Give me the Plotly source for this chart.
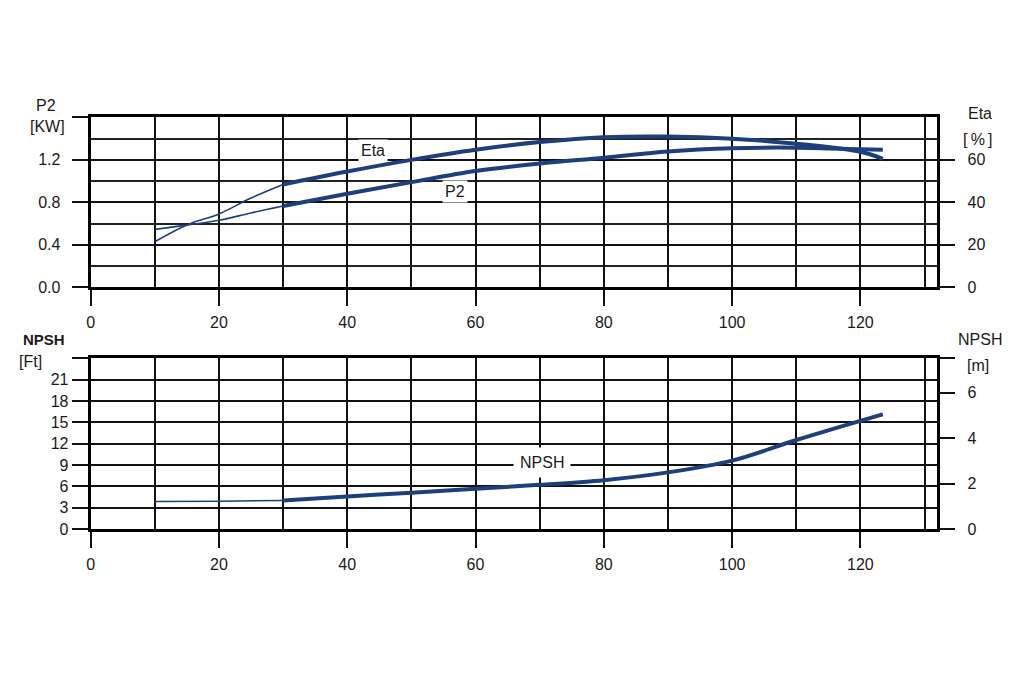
import plotly.graph_objects as go

# ---------------- data ----------------
flow = [10, 15, 20, 25, 30, 40, 50, 60, 70, 80, 90, 100, 110, 120, 123.5]
eta_pct = [21.4, 29.3, 34.5, 42.0, 48.4, 54.5, 60.0, 64.8, 68.4, 70.7, 71.0, 70.0, 67.6, 63.8, 60.5]
p2_kw = [0.545, 0.585, 0.63, 0.70, 0.765, 0.88, 0.99, 1.095, 1.165, 1.22, 1.28, 1.31, 1.315, 1.30, 1.295]

npsh_flow = [10, 20, 30, 40, 50, 60, 70, 80, 90, 100, 110, 120, 123.5]
npsh_ft = [3.86, 3.9, 4.0, 4.55, 5.1, 5.65, 6.2, 6.85, 7.95, 9.6, 12.5, 15.2, 16.1]

x_ticks = [0, 20, 40, 60, 80, 100, 120]
p2_tickvals = [0, 0.4, 0.8, 1.2, 1.6]
p2_ticktext = ["0.0", "0.4", "0.8", "1.2", ""]
eta_tickvals = [0, 20, 40, 60]
ft_tickvals = [0, 3, 6, 9, 12, 15, 18, 21, 24]
ft_ticktext = ["0", "3", "6", "9", "12", "15", "18", "21", ""]
m_tickvals = [0, 2, 4, 6]
M_AXIS_MAX = 7.52  # metre axis top
FT_PER_M = 3.2808
THICK_FROM = 30  # curves drawn thin below this flow

# ---------------- styling ----------------
W, H = 1024, 683
BLUE = "#1d3f7c"
FONT = "Liberation Sans, Arial, sans-serif"
TXT = "#1a1a1a"

def px_x(p):
    return p / W

def px_y(p):
    return 1 - p / H

top_dom = [px_y(291), px_y(119)]
bot_dom = [px_y(536), px_y(363)]
x_dom = [px_x(87), px_x(937)]

def split(xs, ys):
    thin_x = [x for x in xs if x <= THICK_FROM]
    thin_y = [y for x, y in zip(xs, ys) if x <= THICK_FROM]
    thick_x = [x for x in xs if x >= THICK_FROM]
    thick_y = [y for x, y in zip(xs, ys) if x >= THICK_FROM]
    return (thin_x, thin_y), (thick_x, thick_y)

fig = go.Figure()

def add_curve(xs, ys, xa, ya, name):
    (tx, ty), (kx, ky) = split(xs, ys)
    fig.add_trace(go.Scatter(x=tx, y=ty, xaxis=xa, yaxis=ya, mode="lines", name=name,
                             line=dict(color=BLUE, width=1.6, shape="spline"), showlegend=False,
                             hoverinfo="skip"))
    fig.add_trace(go.Scatter(x=kx, y=ky, xaxis=xa, yaxis=ya, mode="lines", name=name,
                             line=dict(color=BLUE, width=4, shape="spline"), showlegend=False))

add_curve(flow, p2_kw, "x", "y", "P2")
add_curve(flow, eta_pct, "x", "y2", "Eta")
add_curve(npsh_flow, npsh_ft, "x2", "y3", "NPSH")
# NPSH in metres on the right-hand axis (invisible; makes the metre axis render)
fig.add_trace(go.Scatter(x=npsh_flow, y=[v / FT_PER_M for v in npsh_ft], xaxis="x2", yaxis="y4",
                         mode="lines", line=dict(color="rgba(0,0,0,0)", width=0),
                         hoverinfo="skip", showlegend=False))

grid = dict(showgrid=True, gridcolor="#111", gridwidth=2)
tickfont = dict(family=FONT, size=16, color=TXT)

def xaxis(anchor):
    return dict(domain=x_dom, anchor=anchor, range=[0, 132], tickmode="array", tickvals=x_ticks,
                ticks="outside", ticklen=16, tickwidth=2, tickcolor="#111",
                showline=True, mirror=True, linewidth=3, linecolor="#000", zeroline=False,
                tickfont=tickfont, ticklabelstandoff=3,
                minor=dict(tickmode="linear", tick0=0, dtick=10, showgrid=True, gridcolor="#111",
                           gridwidth=2, ticks=""),
                **grid)

fig.update_layout(
    width=W, height=H, margin=dict(l=0, r=0, t=0, b=0),
    paper_bgcolor="white", plot_bgcolor="white", showlegend=False,
    xaxis=xaxis("y"),
    xaxis2=xaxis("y3"),
    yaxis=dict(domain=top_dom, anchor="x", range=[0, 1.6], tickmode="array",
               tickvals=p2_tickvals, ticktext=p2_ticktext, ticks="outside", ticklen=16,
               tickwidth=2, tickcolor="#111", showline=True, mirror=True, linewidth=3,
               linecolor="#000", zeroline=False, tickfont=tickfont, ticklabelstandoff=8,
               minor=dict(tickmode="linear", tick0=0, dtick=0.2, showgrid=True,
                          gridcolor="#222", gridwidth=2, ticks=""),
               **grid),
    yaxis2=dict(anchor="x", overlaying="y", side="right", range=[0, 80], tickmode="array",
                tickvals=eta_tickvals, ticks="outside", ticklen=17, tickwidth=2, tickcolor="#111",
                showgrid=False, showline=False, zeroline=False, tickfont=tickfont,
                ticklabelstandoff=9),
    yaxis3=dict(domain=bot_dom, anchor="x2", range=[0, 24], tickmode="array",
                tickvals=ft_tickvals, ticktext=ft_ticktext, ticks="outside", ticklen=16,
                tickwidth=2, tickcolor="#111", showline=True, mirror=True, linewidth=3,
                linecolor="#000", zeroline=False, tickfont=tickfont, ticklabelstandoff=0,
                **grid),
    yaxis4=dict(anchor="x2", overlaying="y3", side="right", range=[0, M_AXIS_MAX],
                tickmode="array", tickvals=m_tickvals + [M_AXIS_MAX],
                ticktext=[str(v) for v in m_tickvals] + [""], ticks="outside", ticklen=17,
                tickwidth=2, tickcolor="#111", showgrid=False, showline=False, zeroline=False,
                tickfont=tickfont, ticklabelstandoff=9),
)

def paper_text(text, x, y, size=16, bold=False):
    fig.add_annotation(text=f"<b>{text}</b>" if bold else text, xref="paper", yref="paper",
                       x=px_x(x), y=px_y(y), showarrow=False, xanchor="center", yanchor="middle",
                       font=dict(family=FONT, size=size, color=TXT))

paper_text("P2", 42, 107)
paper_text("[KW]", 44, 128)
paper_text("Eta", 980, 115)
paper_text("[\u2009%\u2009]", 978, 141)
paper_text("NPSH", 40, 344, size=15, bold=True)
paper_text("[Ft]", 27, 366)
paper_text("NPSH", 980, 344)
paper_text("[m]", 978, 370)

def data_text(text, x, y, xref, yref):
    fig.add_annotation(text=text, xref=xref, yref=yref, x=x, y=y, showarrow=False,
                       font=dict(family=FONT, size=16, color=TXT), bgcolor="white", borderpad=2)

data_text("Eta", 44, 1.29, "x", "y")
data_text("P2", 56.8, 0.90, "x", "y")
fig.add_annotation(text="NPSH", xref="x2", yref="y3", x=70.3, y=9.4, showarrow=False,
                   font=dict(family=FONT, size=16, color=TXT), bgcolor="white", borderpad=6)

fig.write_html("out.html", config={"displayModeBar": False},
               post_script="document.body.style.margin='0';")
